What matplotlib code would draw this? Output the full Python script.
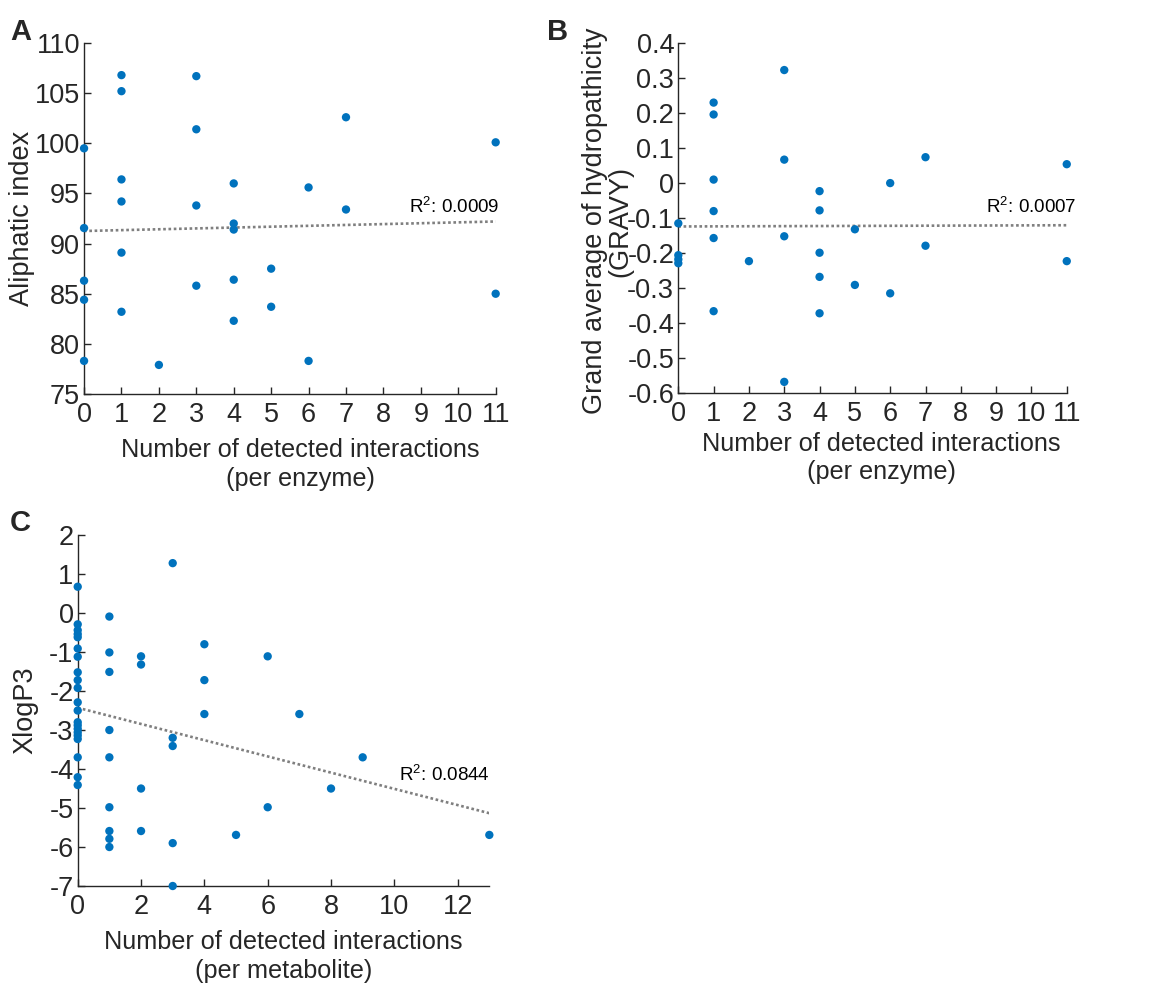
import numpy as np
import matplotlib

matplotlib.use("Agg")
import matplotlib.pyplot as plt
from matplotlib.ticker import FuncFormatter, MultipleLocator

plt.rcParams["font.family"] = ["Liberation Sans", "DejaVu Sans"]
plt.rcParams["axes.unicode_minus"] = False
plt.rcParams["mathtext.fontset"] = "custom"
plt.rcParams["mathtext.rm"] = "Liberation Sans"

# panel A: aliphatic index per enzyme
a_x = [0, 0, 0, 0, 0, 1, 1, 1, 1, 1, 1, 2, 3, 3, 3, 3, 4, 4, 4, 4, 4, 5, 5, 6, 6, 7, 7, 11, 11]
a_y = [99.5, 91.55, 86.3, 84.4, 78.3, 106.8, 105.2, 96.4, 94.2, 89.1, 83.2, 77.9,
       106.7, 101.4, 93.8, 85.8, 96.0, 92.0, 91.4, 86.4, 82.3, 87.5, 83.7, 95.6, 78.3,
       102.6, 93.4, 100.1, 85.0]
a_r2 = "0.0009"

# panel B: GRAVY per enzyme
b_x = [0, 0, 0, 0, 1, 1, 1, 1, 1, 1, 2, 3, 3, 3, 3, 4, 4, 4, 4, 4, 5, 5, 6, 6, 7, 7, 11, 11]
b_y = [-0.116, -0.207, -0.219, -0.230, 0.229, 0.195, 0.009, -0.081, -0.158, -0.367, -0.224,
       0.322, 0.066, -0.153, -0.569, -0.024, -0.079, -0.200, -0.269, -0.373, -0.133, -0.292,
       -0.001, -0.316, 0.073, -0.180, 0.053, -0.224]
b_r2 = "0.0007"

# panel C: XlogP3 per metabolite
c_x = [0] * 21 + [1] * 9 + [2] * 4 + [3] * 5 + [4] * 3 + [5, 6, 6, 7, 8, 9, 13]
c_y = [0.675, -0.29, -0.44, -0.54, -0.62, -0.91, -1.12, -1.52, -1.72, -1.92, -2.29, -2.50,
       -2.80, -2.88, -2.97, -3.06, -3.14, -3.23, -3.70, -4.21, -4.41,
       -0.09, -1.01, -1.51, -3.0, -3.70, -4.98, -5.59, -5.79, -6.0,
       -1.11, -1.32, -4.50, -5.59,
       1.28, -3.20, -3.41, -5.90, -7.0,
       -0.80, -1.72, -2.59,
       -5.69, -1.11, -4.98, -2.59, -4.50, -3.70, -5.69]
c_r2 = "0.0844"

INK = "#262626"
DOT = "#0072BD"


def tick_fmt(value, _pos):
    return f"{round(value, 6):g}"


def scatter_panel(ax, xs, ys, r2, xlim, ylim, xstep, ystep, r2_pos):
    ax.scatter(xs, ys, s=36, color=DOT, edgecolors="none", zorder=3, clip_on=False)
    slope, intercept = np.polyfit(xs, ys, 1)
    line_x = np.array([min(xs), max(xs)])
    ax.plot(line_x, slope * line_x + intercept, color="#7f7f7f", linestyle=(0, (1, 1)),
            linewidth=1.9, zorder=2)
    ax.text(r2_pos[0], r2_pos[1], r"R$^{\mathregular{2}}$: " + r2, transform=ax.transAxes,
            ha="right", va="baseline", fontsize=13.5, color="black")
    ax.set_xlim(*xlim)
    ax.set_ylim(*ylim)
    ax.xaxis.set_major_locator(MultipleLocator(xstep))
    ax.yaxis.set_major_locator(MultipleLocator(ystep))
    ax.yaxis.set_major_formatter(FuncFormatter(tick_fmt))
    for side in ("top", "right"):
        ax.spines[side].set_visible(False)
    for side in ("left", "bottom"):
        ax.spines[side].set_color(INK)
        ax.spines[side].set_linewidth(1.0)
    ax.tick_params(direction="in", length=5, width=1.0, color=INK, labelcolor=INK,
                   labelsize=19.5)
    ax.tick_params(axis="y", pad=3)
    ax.tick_params(axis="x", pad=6)
    ax.set_facecolor("none")


fig = plt.figure(figsize=(11.53, 9.85), dpi=100)

ax_a = fig.add_axes([0.0729, 0.600, 0.357, 0.3563])
scatter_panel(ax_a, a_x, a_y, a_r2, (0, 11), (75, 110), 1, 5, (1.010, 0.516))
ax_a.set_ylabel("Aliphatic index", fontsize=19.5, color=INK)
ax_a.yaxis.set_label_coords(-0.119, 0.5)
ax_a.set_xlabel("Number of detected interactions\n(per enzyme)", fontsize=18.2, color=INK,
                va="top", linespacing=1.25)
ax_a.xaxis.set_label_coords(0.525, -0.125)

ax_b = fig.add_axes([0.5883, 0.6013, 0.3369, 0.3553])
scatter_panel(ax_b, b_x, b_y, b_r2, (0, 11), (-0.6, 0.4), 1, 0.1, (1.026, 0.513))
ax_b.set_ylabel("Grand average of hydropathicity\n(GRAVY)", fontsize=19.5, color=INK,
                linespacing=0.95)
ax_b.yaxis.set_label_coords(-0.116, 0.49)
ax_b.set_xlabel("Number of detected interactions\n(per enzyme)", fontsize=18.2, color=INK,
                va="top", linespacing=1.25)
ax_b.xaxis.set_label_coords(0.522, -0.111)

ax_c = fig.add_axes([0.0674, 0.1005, 0.357, 0.3563])
scatter_panel(ax_c, c_x, c_y, c_r2, (0, 13), (-7, 2), 2, 1, (1.002, 0.300))
ax_c.set_ylabel("XlogP3", fontsize=19.5, color=INK)
ax_c.yaxis.set_label_coords(-0.0965, 0.5)
ax_c.set_xlabel("Number of detected interactions\n(per metabolite)", fontsize=18.2, color=INK,
                va="top", linespacing=1.25)
ax_c.xaxis.set_label_coords(0.5, -0.125)

for label, (px, py) in {"A": (10, 18), "B": (547, 18), "C": (10, 509)}.items():
    fig.text(px / 1153, 1 - py / 985, label, fontsize=21, fontweight="bold",
             color="#262626", ha="left", va="top")

fig.savefig("out.png", dpi=100)
plt.close(fig)
